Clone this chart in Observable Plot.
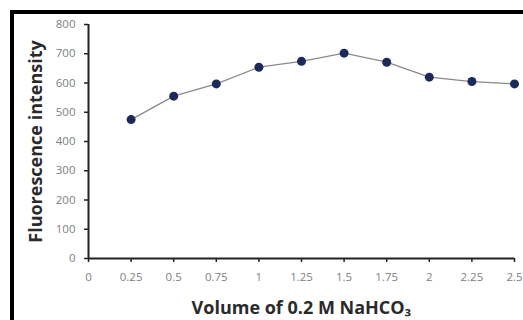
<!DOCTYPE html>
<html>
<head>
<meta charset="utf-8">
<script src="https://cdn.jsdelivr.net/npm/d3@7"></script>
<script src="https://cdn.jsdelivr.net/npm/@observablehq/plot@0.6"></script>
<style>
  html, body { margin: 0; padding: 0; background: #fff; }
  #wrap { position: relative; width: 523px; height: 320px; overflow: hidden; }
  #frame { position: absolute; left: 10px; top: 10px; width: 600px; height: 400px; border-left: 4px solid #000; border-top: 4px solid #000; box-sizing: border-box; pointer-events: none; }
  #chart svg { display: block; }
  g[aria-label="y-axis label"] text, g[aria-label="x-axis label"] text { font-weight: bold; font-size: 18px; fill: #2a2a2a; font-family: "Open Sans", Lato, sans-serif; }
</style>
</head>
<body>
<div id="wrap">
  <div id="chart"></div>
  <div id="frame"></div>
</div>
<script>
const volumes = [0.25, 0.5, 0.75, 1, 1.25, 1.5, 1.75, 2, 2.25, 2.5];
const intensity = [475, 555, 597, 654, 674, 702, 671, 620, 605, 597];
const xTicks = [0, 0.25, 0.5, 0.75, 1, 1.25, 1.5, 1.75, 2, 2.25, 2.5];
const yTicks = [0, 100, 200, 300, 400, 500, 600, 700, 800];

const data = volumes.map((v, i) => ({volume: v, intensity: intensity[i]}));

const chart = Plot.plot({
  width: 523,
  height: 320,
  marginLeft: 88,
  marginRight: 9,
  marginTop: 24,
  marginBottom: 62,
  style: {fontFamily: "'Open Sans', Lato, sans-serif", fontSize: "11.5px", color: "#595959", background: "transparent"},
  x: {domain: [0, 2.5]},
  y: {domain: [0, 800]},
  marks: [
    Plot.axisX({ticks: xTicks, tickFormat: d => String(d), tickSize: 4, tickPadding: 10, stroke: "#222", strokeWidth: 1.5, label: "Volume of 0.2 M NaHCO₃", labelAnchor: "center", labelArrow: "none", labelOffset: 55, fill: "#808080"}),
    Plot.axisY({ticks: yTicks, tickSize: 4, tickPadding: 9, stroke: "#222", strokeWidth: 1.5, label: "Fluorescence intensity", labelAnchor: "center", labelArrow: "none", labelOffset: 59, fill: "#808080"}),
    Plot.ruleX([0], {stroke: "#222", strokeWidth: 2}),
    Plot.ruleY([0], {stroke: "#222", strokeWidth: 2}),
    Plot.line(data, {x: "volume", y: "intensity", stroke: "#8a8a8a", strokeWidth: 1.3}),
    Plot.dot(data, {x: "volume", y: "intensity", r: 4.5, fill: "#1b2a5a", stroke: "none"})
  ]
});
document.getElementById("chart").appendChild(chart);
</script>
</body>
</html>
